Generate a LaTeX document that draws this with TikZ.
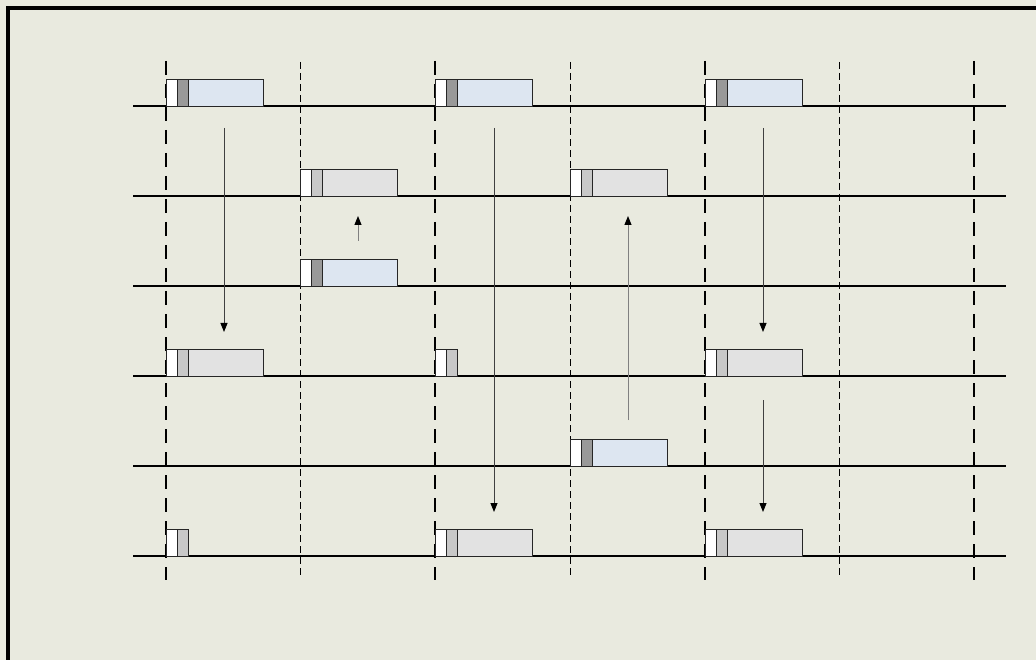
\documentclass[tikz,border=0pt]{standalone}
\usetikzlibrary{arrows.meta}
\definecolor{bg}{RGB}{233,234,223}
\definecolor{pblue}{RGB}{221,230,241}
\definecolor{pdark}{RGB}{153,153,153}
\definecolor{plight}{RGB}{200,200,200}
\definecolor{pbody}{RGB}{226,226,226}
\tikzset{
  cell/.style={draw=black!85, line width=0.9pt, minimum height=27pt, inner sep=0pt, outer sep=0pt, anchor=south west},
  lane/.style={line width=1.6pt},
  bigdash/.style={line width=2pt, dash pattern=on 14pt off 9pt},
  smalldash/.style={line width=0.8pt, dash pattern=on 7pt off 4pt},
  downarr/.style={line width=0.9pt, draw=black!75, -{Triangle[length=9pt,width=7pt,color=black]}},
  uparr/.style={line width=1pt, draw=black!50, -{Triangle[length=9pt,width=7pt,color=black]}},
}
\newcommand\pktfull[5]{%
  \node[cell, fill=white, minimum width=11pt] (#1a) at (#2,#3) {};
  \node[cell, fill=#4, minimum width=11pt] (#1b) at (#1a.south east) {};
  \node[cell, fill=#5, minimum width=75pt] (#1c) at (#1b.south east) {};}
\newcommand\pktshort[4]{%
  \node[cell, fill=white, minimum width=11pt] (#1a) at (#2,#3) {};
  \node[cell, fill=#4, minimum width=11pt] (#1b) at (#1a.south east) {};}
\begin{document}
\begin{tikzpicture}[x=1pt,y=-1pt]
\fill[bg] (0,0) rectangle (1036,660);
\useasboundingbox (0,0) rectangle (1036,660);
\draw[line width=3.5pt] (8,662) -- (8,8) -- (1038,8);

% vertical dashed lines
\foreach \x/\n in {166/A,435/B,705/C,974/D}{
  \coordinate (v\n t) at (\x,61);
  \coordinate (v\n b) at (\x,580);
  \draw[bigdash] (v\n t) -- (v\n b);
}
\foreach \x/\n in {300/E,570/F,839/G}{
  \coordinate (v\n t) at (\x,62);
  \coordinate (v\n b) at (\x,578);
  \draw[smalldash] (v\n t) -- (v\n b);
}

% lanes
\foreach \y/\n in {106/1,196/2,286/3,376/4,466/5,556/6}{
  \coordinate (l\n s) at (133,\y);
  \coordinate (l\n e) at (1006,\y);
  \draw[lane] (l\n s) -- (l\n e);
}

% packets
\pktfull{p11}{166}{106}{pdark}{pblue}
\pktfull{p12}{435}{106}{pdark}{pblue}
\pktfull{p13}{705}{106}{pdark}{pblue}
\pktfull{p21}{300}{196}{plight}{pbody}
\pktfull{p22}{570}{196}{plight}{pbody}
\pktfull{p31}{300}{286}{pdark}{pblue}
\pktfull{p41}{166}{376}{plight}{pbody}
\pktshort{p42}{435}{376}{plight}
\pktfull{p43}{705}{376}{plight}{pbody}
\pktfull{p51}{570}{466}{pdark}{pblue}
\pktshort{p61}{166}{556}{plight}
\pktfull{p62}{435}{556}{plight}{pbody}
\pktfull{p63}{705}{556}{plight}{pbody}

% arrows
\coordinate (a1s) at (224,128); \coordinate (a1e) at (224,332);
\coordinate (a2s) at (358,241); \coordinate (a2e) at (358,216);
\coordinate (a3s) at (494,128); \coordinate (a3e) at (494,512);
\coordinate (a4s) at (628,420); \coordinate (a4e) at (628,216);
\coordinate (a5s) at (763,128); \coordinate (a5e) at (763,332);
\coordinate (a6s) at (763,400); \coordinate (a6e) at (763,512);
\draw[downarr] (a1s) -- (a1e);
\draw[uparr] (a2s) -- (a2e);
\draw[downarr] (a3s) -- (a3e);
\draw[uparr] (a4s) -- (a4e);
\draw[downarr] (a5s) -- (a5e);
\draw[downarr] (a6s) -- (a6e);
\end{tikzpicture}
\end{document}
